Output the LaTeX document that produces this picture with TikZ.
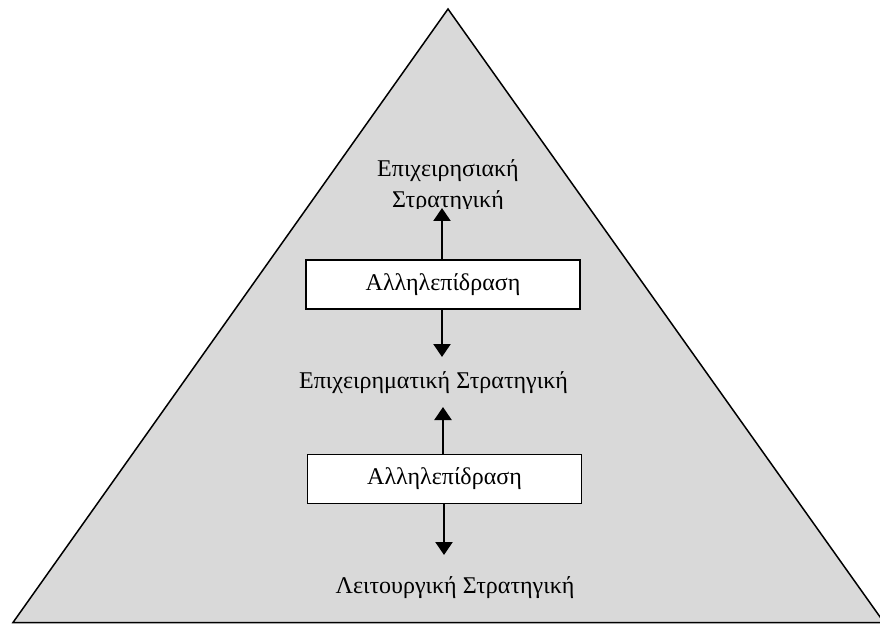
\documentclass[tikz,border=0pt]{standalone}
\usepackage{fontspec}
\setmainfont{Liberation Serif}
\usetikzlibrary{arrows.meta}
\definecolor{pyrgrey}{HTML}{D9D9D9}
\tikzset{
  label text/.style={font=\fontsize{24bp}{31bp}\selectfont, inner sep=0pt},
  interbox/.style={draw, fill=white, line width=1.3bp, minimum width=274bp,
                   minimum height=49bp, inner sep=0pt,
                   font=\fontsize{24bp}{28bp}\selectfont},
  flow/.style={line width=2.3bp, -{Triangle[length=13bp,width=17bp]}}
}
\begin{document}
\begin{tikzpicture}[x=1bp,y=-1bp]
  \useasboundingbox (0,0) rectangle (880,624);
  \clip (0,0) rectangle (880,624);
  % pyramid
  \draw[fill=pyrgrey, line width=1.5bp, line join=miter]
    (448,9) -- (884,622.5) -- (13,622.5) -- cycle;
  % top level label, lower part hidden by its frame
  \begin{scope}
    \clip (300,140) rectangle (600,209);
    \node[label text, align=center, anchor=base] (corp) at (448,208)
      {Επιχειρησιακή\\Στρατηγική};
  \end{scope}
  % interaction boxes
  \node[interbox] (int1) at (443,284.5) {Αλληλεπίδραση};
  \node[interbox] (int2) at (444.5,479) {Αλληλεπίδραση};
  % middle and bottom labels
  \node[label text, anchor=base] (bus) at (433.5,388) {Επιχειρηματική Στρατηγική};
  \node[label text, anchor=base] (fun) at (455,593) {Λειτουργική Στρατηγική};
  % arrow tips
  \coordinate (t1) at (442,208);
  \coordinate (t2) at (442,357);
  \coordinate (t3) at (443,407);
  \coordinate (t4) at (444,555);
  \draw[flow] (int1.north -| t1) -- (t1);
  \draw[flow] (int1.south -| t2) -- (t2);
  \draw[flow] (int2.north -| t3) -- (t3);
  \draw[flow] (int2.south -| t4) -- (t4);
\end{tikzpicture}
\end{document}
